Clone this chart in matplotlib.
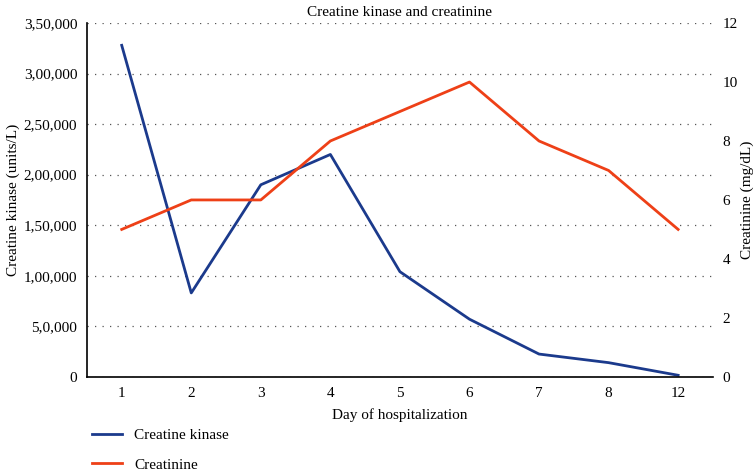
import matplotlib.pyplot as plt
from matplotlib.lines import Line2D

days = ["1", "2", "3", "4", "5", "6", "7", "8", "12"]
creatine_kinase = [328000, 83000, 190000, 220000, 104000, 57000, 22500, 14000, 1500]
creatinine = [5, 6, 6, 8, 9, 10, 8, 7, 5]

ck_ticks = [0, 50000, 100000, 150000, 200000, 250000, 300000, 350000]
ck_tick_labels = ["0", "5,0,000", "1,00,000", "1,50,000", "2,00,000",
                  "2,50,000", "3,00,000", "3,50,000"]
cr_ticks = [0, 2, 4, 6, 8, 10, 12]

BLUE = "#1b3a8c"
RED = "#ee4017"

plt.rcParams["font.family"] = ["Liberation Serif", "DejaVu Serif"]
plt.rcParams["font.size"] = 11

fig = plt.figure(figsize=(7.56, 4.71), dpi=100)
ax = fig.add_axes([0.115, 0.2, 0.828, 0.751])
ax2 = ax.twinx()

x = list(range(len(days)))
ax.plot(x, creatine_kinase, color=BLUE, lw=2, label="Creatine kinase")
ax2.plot(x, creatinine, color=RED, lw=2, label="Creatinine")

ax.set_xlim(-0.5, len(days) - 0.5)
ax.set_ylim(0, 350000)
ax.set_yticks(ck_ticks)
ax.set_yticklabels(ck_tick_labels)
ax.set_xticks(x)
ax.set_xticklabels(days)
ax2.set_ylim(0, 12)
ax2.set_yticks(cr_ticks)

ax.grid(axis="y", linestyle=(0, (1, 5)), color="#555555", lw=0.9)
ax.set_axisbelow(True)

for a in (ax, ax2):
    a.tick_params(length=0, pad=7)
    a.spines["top"].set_visible(False)
    a.spines["right"].set_visible(False)
ax2.spines["left"].set_visible(False)
ax2.spines["bottom"].set_visible(False)
ax.spines["left"].set_linewidth(1.2)
ax.spines["bottom"].set_linewidth(1.2)

ax.set_xlabel("Day of hospitalization", labelpad=6)
ax.set_ylabel("Creatine kinase (units/L)", labelpad=3)
ax2.set_ylabel("Creatinine (mg/dL)", labelpad=2)
ax.set_title("Creatine kinase and creatinine", fontsize=11, pad=5)

handles = [Line2D([], [], color=BLUE, lw=2), Line2D([], [], color=RED, lw=2)]
fig.legend(handles, ["Creatine kinase", "Creatinine"], loc="upper left",
           bbox_to_anchor=(0.103, 0.12), frameon=False, handlelength=2.0,
           handletextpad=0.8, labelspacing=1.05, fontsize=11)

fig.savefig("out.png", dpi=100)
